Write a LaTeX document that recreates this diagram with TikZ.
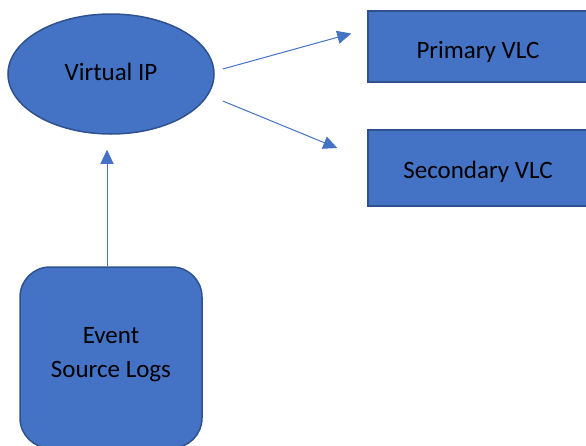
\documentclass[tikz,border=0pt]{standalone}
\usepackage{fontspec}
\setmainfont{Carlito}
\usetikzlibrary{arrows.meta,shapes.geometric,positioning}
\definecolor{officeblue}{HTML}{4472C4}
\definecolor{officeedge}{HTML}{2F528F}
% move the ink of a label without changing its box
\newcommand{\nudge}[2]{\raisebox{#1}[\height][\depth]{#2}}

\begin{document}
\begin{tikzpicture}[x=1pt,y=-1pt,>={Triangle[length=14pt,width=13pt]},
  blob/.style={draw=officeedge,fill=officeblue,line width=1.5pt,inner sep=0pt,
    font=\fontsize{25}{34}\selectfont,text=black},
  vlcbox/.style={blob,minimum width=220pt},
  link/.style={->,officeblue,line width=1pt}]
\useasboundingbox (0,0) rectangle (586,445);
% the three boxes and the ellipse
\node[blob,ellipse,minimum width=206pt,minimum height=120pt] (vip) at (111,74) {\nudge{2pt}{Virtual IP}};
\node[vlcbox,minimum height=71pt] (prim) at (478,46.5) {\nudge{-5pt}{Primary VLC}};
\node[vlcbox,minimum height=76pt] (sec) at (478,168) {\nudge{-4pt}{Secondary VLC}};
\node[blob,rounded corners=30pt,minimum width=182pt,minimum height=181pt,align=center]
  (events) at (111,357.5) {\nudge{3pt}{Event}\\\nudge{3pt}{Source Logs}};
% connectors
\draw[link] ([xshift=-4pt]events.north) -- ([xshift=-4pt,yshift=-15pt]vip.south);
\draw[link] ([xshift=8pt,yshift=5pt]vip.east) -- ([xshift=-16pt,yshift=13pt]prim.west);
\draw[link] ([xshift=8pt,yshift=-27pt]vip.east) -- ([xshift=-30pt,yshift=20pt]sec.west);
\end{tikzpicture}
\end{document}
